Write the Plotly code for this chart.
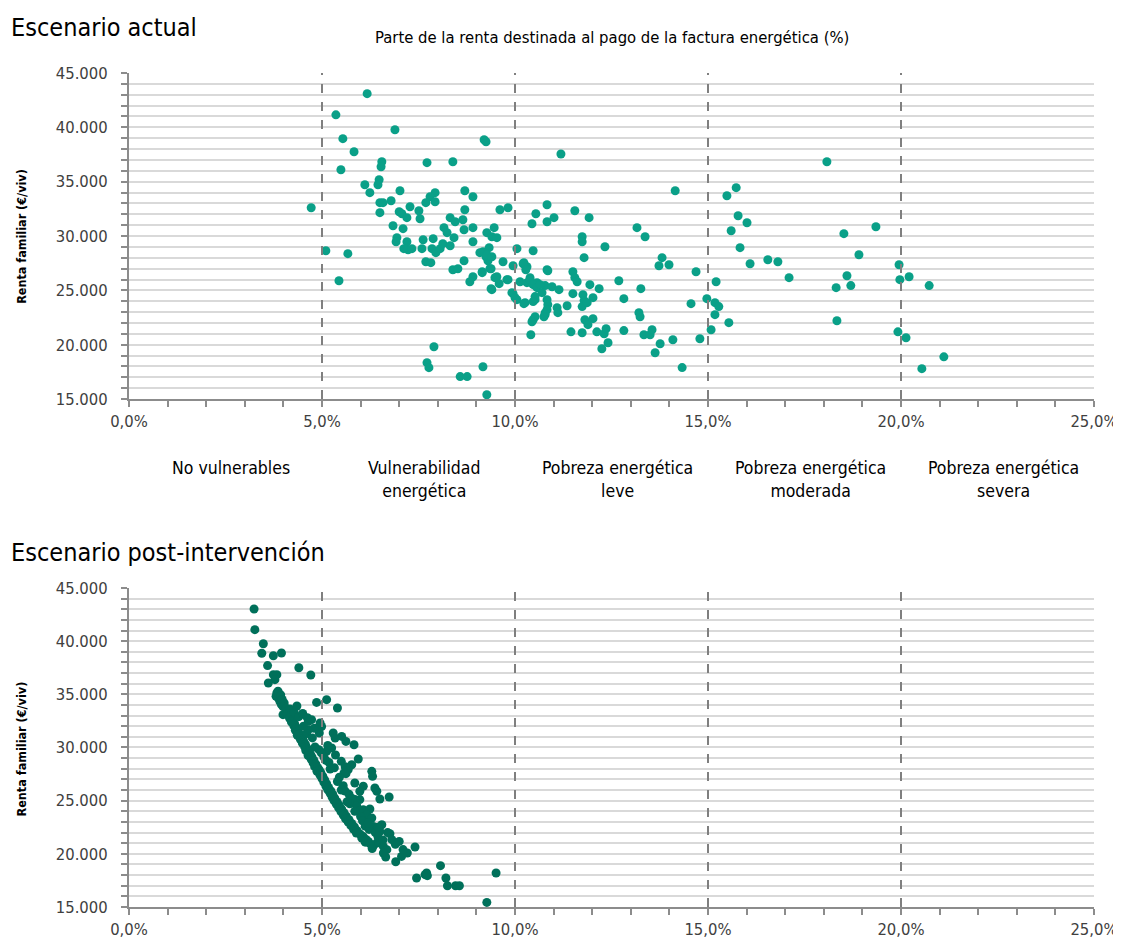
import plotly.graph_objects as go

# ---------------- data ----------------
# Escenario actual: share of income spent on energy bill (%) and family income (€/viv)
actual_x = [4.72, 6.17, 5.36, 6.89, 5.54, 5.83, 5.49, 6.55, 6.53, 6.11, 6.24, 6.48, 6.45, 7.02, 6.50, 6.50,
            6.79, 6.58, 7.28, 7.00, 7.07, 7.20, 7.51, 7.54, 6.84, 7.10, 7.72, 8.39, 7.93, 7.80, 7.69, 7.93,
            8.70, 8.91, 6.94, 6.92, 7.20, 7.23, 7.12, 7.33, 7.59, 7.62, 7.88, 7.85, 7.95, 8.06, 8.13, 8.32,
            8.16, 8.24, 8.42, 8.32, 8.45, 8.65, 8.70, 8.68, 8.91, 8.91, 7.69, 7.82, 8.39, 8.52, 8.68, 8.91,
            8.83, 9.15, 9.27, 9.40, 9.53, 9.46, 9.33, 9.17, 9.25, 9.30, 9.38, 9.61, 9.82, 9.69, 9.95, 9.53,
            9.40, 9.59, 9.79, 9.95, 10.05, 10.05, 10.23, 10.31, 10.47, 10.39, 10.57, 10.26, 10.52, 10.78,
            10.83, 10.83, 10.54, 10.44, 10.83, 10.47, 10.41, 7.90, 10.78, 5.67, 5.10, 5.44, 9.20, 9.25,
            11.01, 11.55, 11.92, 11.74, 11.74, 12.33, 11.79, 10.85, 10.96, 11.14, 11.50, 11.55, 11.61,
            11.94, 12.18, 11.50, 11.76, 11.79, 11.74, 12.02, 11.87, 11.35, 11.09, 11.11, 10.83, 10.85,
            10.83, 10.78, 10.75, 10.52, 10.44, 11.81, 11.89, 12.02, 11.45, 11.74, 12.12, 12.31, 12.36,
            12.41, 12.25, 12.69, 12.82, 12.82, 13.16, 13.37, 13.81, 13.73, 13.99, 13.26, 13.21, 13.24,
            13.34, 13.50, 13.55, 13.76, 13.63, 14.09, 14.15, 14.33, 14.69, 14.56, 14.79, 14.97, 15.21,
            15.18, 15.28, 15.18, 15.08, 15.54, 15.49, 15.73, 15.78, 16.01, 15.60, 15.83, 16.09, 16.55,
            16.81, 17.10, 18.08, 18.52, 19.35, 18.91, 18.60, 18.70, 18.32, 18.34, 19.95, 19.97, 20.21,
            20.73, 19.92, 20.13, 21.11, 20.54, 7.72, 7.77, 8.58, 8.76, 9.17, 9.27, 9.09, 9.27, 9.40,
            9.35, 9.15, 9.48, 9.38, 9.82, 9.92, 10.00, 10.21, 10.28, 10.13, 10.31, 10.39, 10.47, 10.57,
            10.65, 10.70, 10.52, 10.47, 10.23, 11.19]
actual_y = [32600, 43100, 41150, 39780, 38960, 37760, 36100, 36840, 36380, 34720, 33990, 35180, 34720,
            34170, 33070, 32150, 33250, 33070, 32700, 32240, 32050, 31690, 32330, 31590, 30950, 30680,
            36750, 36840, 33990, 33620, 33070, 33160, 34170, 33620, 29850, 29480, 29480, 28740, 28840,
            28840, 28840, 29660, 29760, 28840, 28470, 28840, 29300, 29110, 30770, 30310, 29850, 31690,
            31320, 31500, 32420, 30580, 30770, 29480, 27640, 27550, 26900, 26990, 27730, 26260, 25800,
            26630, 30310, 29940, 29850, 30770, 28930, 28560, 28100, 27730, 26990, 32420, 32600, 27640,
            27270, 26260, 25070, 25620, 25990, 24700, 24150, 28840, 27550, 27180, 28650, 26170, 25710,
            23870, 24150, 25440, 26900, 32880, 32050, 31130, 31320, 22300, 20920, 19820, 22920, 28380,
            28650, 25890, 38860, 38680, 31690, 32330, 31690, 29940, 29480, 29020, 28010, 26810, 25340,
            25070, 26720, 26170, 25800, 25530, 25160, 24700, 24610, 24060, 23510, 24330, 23870, 23590,
            23400, 22950, 24150, 23690, 23230, 22770, 22580, 22580, 22120, 22300, 21850, 22400, 21190,
            21100, 21190, 21010, 21470, 20180, 19630, 25890, 24240, 21300, 30770, 29940, 28010, 27270,
            27360, 25160, 22950, 22580, 20920, 20920, 21380, 20090, 19260, 20460, 34170, 17900, 26720,
            23780, 20550, 24240, 25800, 23870, 23510, 22770, 21380, 22030, 33710, 34450, 31870, 31220,
            30490, 28930, 27450, 27820, 27640, 26170, 36840, 30220, 30860, 28280, 26350, 25440, 25250,
            22210, 27360, 25990, 26260, 25440, 21190, 20640, 18890, 17800, 18350, 17890, 17070, 17070,
            17980, 15400, 28470, 28290, 28100, 27000, 26720, 26170, 25160, 25990, 24790, 24330, 27450,
            26900, 25800, 25710, 25990, 25530, 25250, 25530, 24790, 24430, 23970, 23780, 37550]

# Escenario post-intervención
post_x = [3.24, 3.26, 3.48, 3.44, 3.74, 3.95, 3.59, 4.40, 4.71, 3.74, 3.83, 3.78, 3.61, 3.83, 3.81, 3.87,
          3.91, 3.95, 3.99, 4.08, 4.17, 4.86, 5.12, 5.40, 4.65, 4.73, 4.65, 4.95, 4.93, 4.99, 5.29, 5.34,
          5.51, 5.62, 5.83, 5.25, 5.12, 4.92, 5.94, 5.77, 5.68, 5.62, 5.57, 5.85, 6.07, 5.98, 5.98, 5.85,
          5.21, 5.10, 6.29, 6.31, 6.37, 6.42, 6.50, 6.74, 6.07, 6.24, 6.16, 6.29, 6.33, 6.55, 6.50, 6.76,
          6.81, 7.00, 7.41, 6.20, 6.33, 6.42, 6.59, 6.68, 6.59, 6.65, 6.91, 7.06, 7.21, 7.45, 7.67, 7.73,
          7.71, 8.07, 8.21, 8.25, 8.46, 8.56, 9.51, 9.27,
          3.86, 3.93, 3.97, 4.02, 3.99, 4.07, 4.12, 4.10, 4.18, 4.16, 4.24, 4.21, 4.29, 4.27, 4.33, 4.31,
          4.38, 4.42, 4.36, 4.47, 4.44, 4.52, 4.49, 4.57, 4.55, 4.61, 4.58, 4.66, 4.70, 4.64, 4.74, 4.72,
          4.79, 4.77, 4.84, 4.81, 4.89, 4.93, 4.87, 4.97, 4.95, 5.02, 5.00, 5.07, 5.05, 5.12, 5.10, 5.17,
          5.15, 5.23, 5.21, 5.28, 5.26, 5.33, 5.31, 5.39, 5.37, 5.45, 5.43, 5.51, 5.49, 5.57, 5.55, 5.63,
          5.61, 5.70, 5.68, 5.77, 5.75, 5.84, 5.82, 5.91, 5.89, 5.99, 6.07, 6.03, 6.14, 6.12, 6.24, 6.30,
          4.28, 4.40, 4.52, 4.60, 4.75, 4.82, 4.98, 5.05, 5.18, 5.32, 5.45, 5.40, 5.55, 5.60, 5.70, 5.78,
          5.72, 5.90, 5.95, 6.00, 6.05, 6.12, 6.22, 6.38, 6.45, 6.58, 4.35, 4.50, 4.62, 4.80, 5.15, 5.35,
          5.50, 5.60, 5.50, 5.65, 5.85, 6.20, 6.45, 6.70, 6.90, 7.10]
post_y = [43030, 41080, 39760, 38860, 38630, 38890, 37700, 37500, 36820, 36850, 36850, 36380, 36060, 35130,
          34810, 34660, 34330, 34030, 33090, 33400, 33620, 34240, 34500, 33720, 32460, 32620, 31680, 32300,
          31360, 31980, 31360, 30890, 31040, 30570, 30260, 29950, 29640, 29800, 28920, 28380, 27920, 27540,
          27600, 26660, 26350, 25880, 25100, 25100, 27980, 28790, 27760, 27290, 26190, 25880, 25160, 25350,
          24150, 24220, 23680, 23370, 22580, 22740, 22110, 21890, 21330, 21170, 20640, 21170, 20760, 21020,
          20700, 20390, 20080, 19700, 19260, 19760, 20080, 17730, 18040, 17950, 18200, 18890, 17730, 17000,
          17000, 17000, 18200, 15430,
          35300, 34950, 34520, 34180, 33850, 33700, 33450, 33150, 32980, 32750, 32600, 32380, 32250, 32050,
          31880, 31620, 31500, 31250, 31150, 31000, 30780, 30650, 30420, 30300, 30080, 29950, 29720, 29600,
          29380, 29250, 29120, 28900, 28780, 28550, 28420, 28200, 28100, 27880, 27760, 27620, 27400, 27300,
          27080, 26950, 26720, 26600, 26380, 26250, 26030, 25920, 25700, 25580, 25350, 25230, 25020, 24900,
          24680, 24560, 24330, 24200, 23980, 23870, 23650, 23540, 23300, 23200, 22980, 22860, 22650, 22520,
          22300, 22180, 21960, 21850, 21620, 21480, 21350, 21100, 20960, 20500,
          33300, 32900, 32000, 31300, 30900, 30050, 29500, 29100, 28600, 28100, 27200, 26800, 26400, 25900,
          25600, 25200, 24700, 24500, 24000, 23500, 23100, 22600, 22300, 22000, 21600, 21300, 33900, 33200,
          32800, 31800, 30200, 29300, 28700, 28200, 26000, 24900, 24000, 22900, 22500, 22000, 20900, 20400]

cutoffs = [5, 10, 15, 20]
category_x = [2.65, 7.65, 12.65, 17.65, 22.65]
category_labels = ["No vulnerables", "Vulnerabilidad<br>energética", "Pobreza energética<br>leve",
                   "Pobreza energética<br>moderada", "Pobreza energética<br>severa"]

# ---------------- style ----------------
FONT = "DejaVu Sans Condensed, DejaVu Sans, sans-serif"
GRID = "#d9d9d9"
AXIS = "#8c8c8c"
C_TOP = "#0aa088"
C_BOT = "#00705a"

fig = go.Figure()
fig.add_trace(go.Scatter(x=actual_x, y=actual_y, mode="markers", xaxis="x", yaxis="y",
                         marker=dict(size=9, color=C_TOP), cliponaxis=False, showlegend=False))
fig.add_trace(go.Scatter(x=post_x, y=post_y, mode="markers", xaxis="x2", yaxis="y2",
                         marker=dict(size=9, color=C_BOT), cliponaxis=False, showlegend=False))

xcommon = dict(range=[0, 25], dtick=5, tick0=0, ticks="outside", ticklen=6, tickwidth=2,
               tickcolor=AXIS, showline=True, linecolor=AXIS, linewidth=2, showgrid=False,
               zeroline=False, tickformat=".1f", ticksuffix="%", automargin=False,
               tickfont=dict(family=FONT, size=16.5, color="#404040"),
               minor=dict(dtick=1, ticks="outside", ticklen=6, tickwidth=2, tickcolor=AXIS, showgrid=False))
ycommon = dict(range=[15000, 45000], dtick=5000, tick0=15000, ticks="outside", ticklen=6, tickwidth=2,
               tickcolor=AXIS, showline=True, linecolor=AXIS, linewidth=2, showgrid=True,
               gridcolor=GRID, gridwidth=2, zeroline=False, tickformat=",.0f", automargin=False,
               ticklabelstandoff=10,
               tickfont=dict(family=FONT, size=16.5, color="#404040"),
               minor=dict(dtick=1000, ticks="outside", ticklen=6, tickwidth=2, tickcolor=AXIS,
                          showgrid=True, gridcolor=GRID, gridwidth=2))

TOP_DOM = [0.609, 1.0]
BOT_DOM = [0.0, 0.3825]

# the page body has an 8px margin, so the figure is offset by 8px; margins compensate
fig.update_layout(
    width=1113, height=936,
    margin=dict(l=121, r=27, t=65, b=37, autoexpand=False),
    paper_bgcolor="white", plot_bgcolor="white",
    separators=",.",
    font=dict(family=FONT, color="black"),
    xaxis=dict(xcommon, domain=[0, 1], anchor="y"),
    yaxis=dict(ycommon, domain=TOP_DOM, anchor="x"),
    xaxis2=dict(xcommon, domain=[0, 1], anchor="y2"),
    yaxis2=dict(ycommon, domain=BOT_DOM, anchor="x2"),
)

shapes = []
for c in cutoffs:
    for xr, yr in (("x", "y domain"), ("x2", "y2 domain")):
        shapes.append(dict(type="line", xref=xr, yref=yr, x0=c, x1=c, y0=0, y1=1,
                           line=dict(color="#7f7f7f", width=2, dash="dash"), layer="above"))
fig.update_layout(shapes=shapes)

ann = []
ann.append(dict(text="Escenario actual", xref="paper", yref="paper", x=-0.1245, y=1.054,
                xanchor="left", yanchor="middle", showarrow=False, font=dict(size=25, family=FONT)))
ann.append(dict(text="Parte de la renta destinada al pago de la factura energética (%)", xref="paper",
                yref="paper", x=0.5, y=1.042, xanchor="center", yanchor="middle", showarrow=False,
                font=dict(size=16.5, family=FONT)))
ann.append(dict(text="Escenario post-intervención", xref="paper", yref="paper", x=-0.1245, y=0.4245,
                xanchor="left", yanchor="middle", showarrow=False, font=dict(size=25, family=FONT)))
for yc in (0.8046, 0.19):
    ann.append(dict(text="<b>Renta familiar (€/viv)</b>", xref="paper", yref="paper", x=-0.111, y=yc,
                    xanchor="center", yanchor="middle", textangle=-90, showarrow=False,
                    font=dict(size=12.5, family=FONT)))
for cx, lab in zip(category_x, category_labels):
    ann.append(dict(text=lab, xref="x", yref="paper", x=cx, y=0.541, xanchor="center", yanchor="top",
                    showarrow=False, font=dict(size=17.5, family=FONT)))
fig.update_layout(annotations=ann)

fig.write_html("out.html")
